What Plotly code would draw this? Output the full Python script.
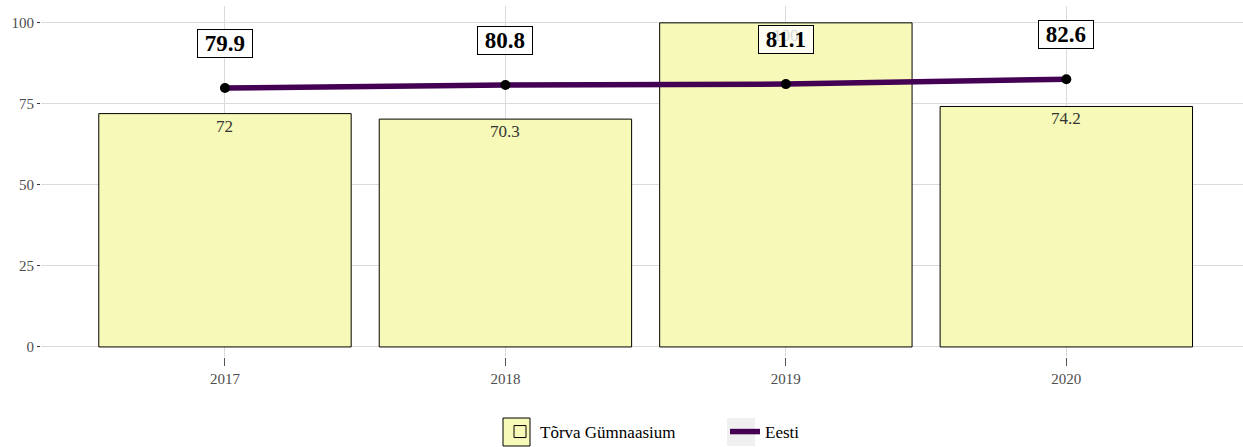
import plotly.graph_objs as go

years = ["2017", "2018", "2019", "2020"]
kool = [72, 70.3, 100, 74.2]
eesti = [79.9, 80.8, 81.1, 82.6]
kool_nimi = "Tõrva Gümnaasium"
eesti_nimi = "Eesti"

FONT = "Liberation Serif, Times New Roman, serif"
X = [0, 1, 2, 3]

# plot area in pixels (matches the ggplot panel)
L, R, T, B = 41, 1243, 6, 357
PW, PH = R - L, B - T


def px(x):
    return (x - L) / PW


def py(y):
    return (B - y) / PH


bar = go.Bar(x=X, y=kool, name=kool_nimi, width=0.9,
             marker=dict(color="#F6F9B7", line=dict(color="black", width=1)))
line = go.Scatter(x=X, y=eesti, name=eesti_nimi, mode="lines",
                  line=dict(color="#440154", width=5.5))
pts = go.Scatter(x=X, y=eesti, mode="markers", showlegend=False,
                 marker=dict(color="black", size=10))

layout = go.Layout(
    width=1243, height=447,
    margin=dict(l=L, r=1243 - R, t=T, b=447 - B, autoexpand=False),
    paper_bgcolor="white", plot_bgcolor="white",
    font=dict(family=FONT, color="#4D4D4D"),
    showlegend=True,
    legend=dict(orientation="h", x=px(500), xanchor="left", y=py(432), yanchor="middle",
                bgcolor="rgba(0,0,0,0)", font=dict(size=17, color="black"),
                entrywidth=180, traceorder="normal"),
    xaxis=dict(range=[-0.656, 3.63], tickvals=X, ticktext=years, automargin=False,
               showgrid=True, gridcolor="#DADADA", gridwidth=1, zeroline=False,
               ticks="outside", ticklen=8, tickcolor="#555555",
               tickfont=dict(size=15, color="#4D4D4D")),
    yaxis=dict(range=[-3.1, 105.2], tickvals=[0, 25, 50, 75, 100], automargin=False,
               showgrid=True, gridcolor="#DADADA", gridwidth=1, zeroline=False,
               ticks="outside", ticklen=3, tickcolor="#333333",
               tickfont=dict(size=15, color="#4D4D4D")),
)

fig = go.Figure(data=[bar, line, pts], layout=layout)

# bar value labels, just inside bar top
for x, v in zip(X, kool):
    fig.add_annotation(x=x, y=v, text=f"{v:g}", showarrow=False, yanchor="top", yshift=-1,
                       font=dict(size=17, color="#333333", family=FONT))

# boxed labels for the Estonia line
for x, v in zip(X, eesti):
    fig.add_annotation(x=x, y=v + 13.8, text=f"&nbsp;<b>{v:g}</b>&nbsp;", showarrow=False,
                       font=dict(size=23, color="black", family=FONT),
                       bgcolor="rgba(255,255,255,0.8)", bordercolor="black",
                       borderwidth=1, borderpad=1)

# legend key backgrounds (ggplot style keys)
fig.add_shape(type="rect", xref="paper", yref="paper", layer="below",
              x0=px(503), x1=px(530), y0=py(446), y1=py(418),
              fillcolor="#F6F9B7", line=dict(color="black", width=1))
fig.add_shape(type="rect", xref="paper", yref="paper", layer="below",
              x0=px(727), x1=px(755), y0=py(446), y1=py(418),
              fillcolor="#F0F0F0", line=dict(width=0))

fig.write_html("out.html", config={"displayModeBar": False},
               post_script="document.body.style.margin='0px';")
